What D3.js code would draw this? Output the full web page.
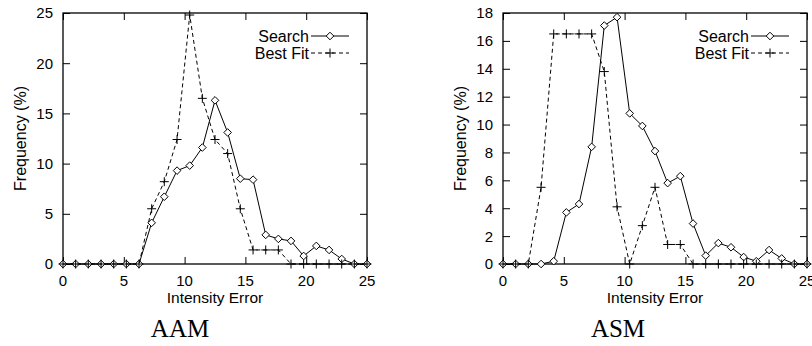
<!DOCTYPE html>
<html><head><meta charset="utf-8">
<script src="https://cdn.jsdelivr.net/npm/d3@7"></script>
<style>body{margin:0;background:#fff}svg{display:block}</style>
</head><body>
<svg id="c" width="812" height="346"></svg>
<script>
const binCenters = [0,1.04,2.08,3.13,4.17,5.21,6.25,7.29,8.33,9.38,10.42,11.46,12.5,13.54,14.58,15.63,16.67,17.71,18.75,19.79,20.83,21.88,22.92,23.96,25];
const aamSearch = [0,0,0,0,0,0,0,4.1,6.7,9.3,9.8,11.6,16.3,13.1,8.5,8.4,2.9,2.5,2.3,0.8,1.8,1.4,0.5,0,0];
const aamBestFit = [0,0,0,0,0,0,0,5.5,8.2,12.4,24.8,16.5,12.4,11.0,5.5,1.4,1.4,1.4,0,0,0,0,0,0,0];
const asmSearch = [0,0,0,0,0.2,3.7,4.3,8.4,17.1,17.7,10.8,9.9,8.1,5.8,6.3,2.9,0.6,1.5,1.2,0.5,0.2,1.0,0.4,0,0];
const asmBestFit = [0,0,0,5.5,16.5,16.5,16.5,16.5,13.8,4.1,0,2.75,5.5,1.4,1.4,0,0,0,0,0,0,0,0,0,0];
const xTicks = [0,5,10,15,20,25];
const aamYTicks = [0,5,10,15,20,25];
const asmYTicks = [0,2,4,6,8,10,12,14,16,18];
const seriesNames = ["Search","Best Fit"];
const xLabel = "Intensity Error";
const yLabel = "Frequency (%)";

const svg = d3.select("#c");
const FONT = "'Liberation Sans', Arial, Helvetica, sans-serif";

function panel(cfg){
  const {left,right,top,bottom,yMax,yTicks,search,best,title,titleX,yLabelX} = cfg;
  const x = d3.scaleLinear().domain([0,25]).range([left,right]);
  const y = d3.scaleLinear().domain([0,yMax]).range([bottom,top]);
  const g = svg.append("g");
  const tl = 7;
  const bx = d3.axisBottom(x).tickValues(xTicks).tickSize(-tl).tickFormat("");
  const tx = d3.axisTop(x).tickValues(xTicks).tickSize(-tl).tickFormat("");
  const ly = d3.axisLeft(y).tickValues(yTicks).tickSize(-tl).tickFormat("");
  const ry = d3.axisRight(y).tickValues(yTicks).tickSize(-tl).tickFormat("");
  [[bx,`translate(0,${bottom})`],[tx,`translate(0,${top})`],[ly,`translate(${left},0)`],[ry,`translate(${right},0)`]].forEach(([ax,tr])=>{
    const a = g.append("g").attr("transform",tr).call(ax);
    a.select(".domain").remove();
    a.selectAll("line").attr("stroke","#000").attr("stroke-width",1);
  });
  g.append("g").selectAll("text").data(xTicks).join("text")
    .attr("x",d=>x(d)).attr("y",bottom+22).attr("text-anchor","middle")
    .attr("font-family",FONT).attr("font-size",15).text(d=>d);
  g.append("g").selectAll("text").data(yTicks).join("text")
    .attr("x",left-10).attr("y",d=>y(d)).attr("dy","0.36em").attr("text-anchor","end")
    .attr("font-family",FONT).attr("font-size",15).text(d=>d);
  g.append("rect").attr("x",left).attr("y",top).attr("width",right-left).attr("height",bottom-top)
    .attr("fill","none").attr("stroke","#000").attr("stroke-width",1.3);
  g.append("text").attr("x",(left+right)/2).attr("y",bottom+39).attr("text-anchor","middle")
    .attr("font-family",FONT).attr("font-size",15.5).text(xLabel);
  g.append("text").attr("transform",`translate(${yLabelX},${(top+bottom)/2}) rotate(-90)`)
    .attr("text-anchor","middle").attr("font-family",FONT).attr("font-size",16).text(yLabel);
  g.append("text").attr("x",titleX).attr("y",337).attr("text-anchor","middle")
    .attr("font-family","'Liberation Serif','Times New Roman',serif").attr("font-size",25).text(title);

  const line = d3.line().x((d,i)=>x(binCenters[i])).y(d=>y(d));
  const diamond = (cx,cy)=>`M${cx},${cy-3.8}L${cx+3.8},${cy}L${cx},${cy+3.8}L${cx-3.8},${cy}Z`;
  const plus = (cx,cy)=>`M${cx-4.5},${cy}H${cx+4.5}M${cx},${cy-4.5}V${cy+4.5}`;
  g.append("path").attr("d",line(search)).attr("fill","none").attr("stroke","#000").attr("stroke-width",1);
  g.append("g").selectAll("path").data(search).join("path")
    .attr("d",(d,i)=>diamond(x(binCenters[i]),y(d))).attr("fill","#fff").attr("stroke","#000").attr("stroke-width",1);
  g.append("path").attr("d",line(best)).attr("fill","none").attr("stroke","#000").attr("stroke-width",1).attr("stroke-dasharray","4,3");
  g.append("g").selectAll("path").data(best).join("path")
    .attr("d",(d,i)=>plus(x(binCenters[i]),y(d))).attr("fill","none").attr("stroke","#000").attr("stroke-width",1);
  const lx = right-58, ly0 = 36, ldy = 17;
  seriesNames.forEach((name,k)=>{
    const yy = ly0+k*ldy;
    g.append("text").attr("x",lx).attr("y",yy+5.5).attr("text-anchor","end")
      .attr("font-family",FONT).attr("font-size",16).text(name);
    const sl = g.append("line").attr("x1",lx+2).attr("x2",lx+40).attr("y1",yy).attr("y2",yy)
      .attr("stroke","#000").attr("stroke-width",1);
    if(k===1) sl.attr("stroke-dasharray","4,3");
    const cx = lx+21;
    if(k===0) g.append("path").attr("d",diamond(cx,yy)).attr("fill","#fff").attr("stroke","#000");
    else g.append("path").attr("d",plus(cx,yy)).attr("fill","none").attr("stroke","#000");
  });
}

panel({left:63,right:367,top:13,bottom:264,yMax:25,yTicks:aamYTicks,search:aamSearch,best:aamBestFit,title:"AAM",titleX:180,yLabelX:26});
panel({left:503,right:807,top:13,bottom:264,yMax:18,yTicks:asmYTicks,search:asmSearch,best:asmBestFit,title:"ASM",titleX:618,yLabelX:466});
</script>
</body></html>
